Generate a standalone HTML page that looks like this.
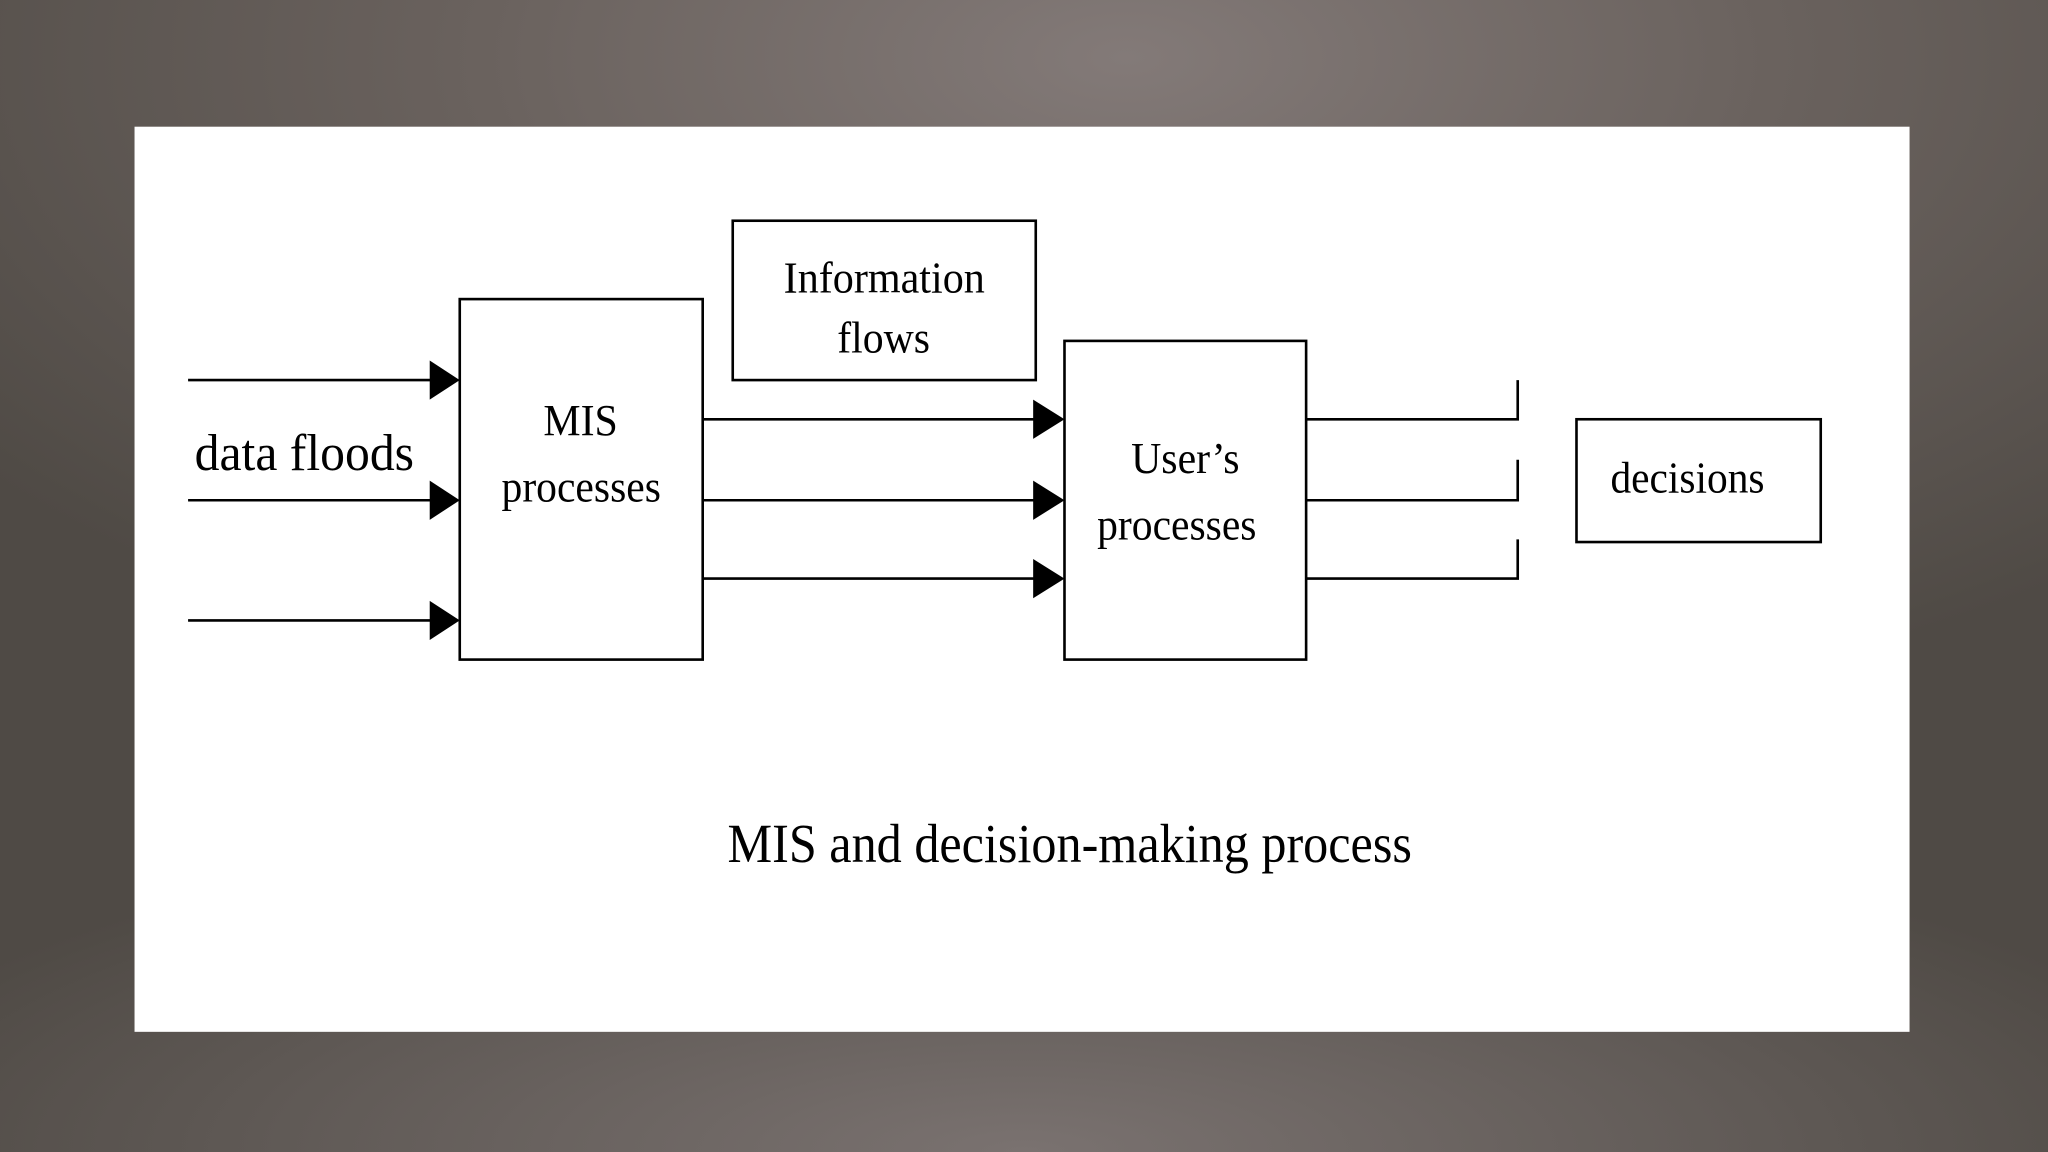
<!DOCTYPE html>
<html><head><meta charset="utf-8"><style>
html,body{margin:0;padding:0;width:2048px;height:1152px;overflow:hidden;}
body{background:radial-gradient(ellipse 60% 30% at 50% 100%, #7a7270 0%, rgba(106,98,94,0) 100%),radial-gradient(ellipse 70% 60% at 55% 5%, #837a78 0%, #6a625e 45%, #4f4a45 100%);}
svg{position:absolute;left:0;top:0;}
text{font-family:"Liberation Serif",serif;fill:#000;}
</style></head><body>
<svg width="2048" height="1152" viewBox="0 0 1568 882" preserveAspectRatio="none">
<rect x="103" y="97" width="1359" height="693" fill="#fff"/>
<g fill="none" stroke="#000" stroke-width="2">
<rect x="352" y="229" width="186" height="276"/>
<rect x="561" y="169" width="232" height="122"/>
<rect x="815" y="261" width="185" height="244"/>
<rect x="1207" y="321" width="187" height="94"/>
<path d="M144 291H330M144 383H330M144 475H330"/>
<path d="M538 321H792M538 383H792M538 443H792"/>
<path d="M1000 321H1162V291M1000 383H1162V352M1000 443H1162V413"/>
</g>
<g fill="#000">
<polygon points="329,276 352,291 329,306"/>
<polygon points="329,368 352,383 329,398"/>
<polygon points="329,460 352,475 329,490"/>
<polygon points="791,306 815,321 791,336"/>
<polygon points="791,368 815,383 791,398"/>
<polygon points="791,428 815,443 791,458"/>
</g>
<text x="149" y="360" font-size="40" textLength="168" lengthAdjust="spacingAndGlyphs">data floods</text>
<text x="416" y="333" font-size="34" textLength="57" lengthAdjust="spacingAndGlyphs">MIS</text>
<text x="384" y="384" font-size="34" textLength="122" lengthAdjust="spacingAndGlyphs">processes</text>
<text x="600" y="224" font-size="34" textLength="154" lengthAdjust="spacingAndGlyphs">Information</text>
<text x="641" y="270" font-size="34" textLength="71" lengthAdjust="spacingAndGlyphs">flows</text>
<text x="866" y="362" font-size="34" textLength="83" lengthAdjust="spacingAndGlyphs">User’s</text>
<text x="840" y="413" font-size="34" textLength="122" lengthAdjust="spacingAndGlyphs">processes</text>
<text x="1233" y="377" font-size="34" textLength="118" lengthAdjust="spacingAndGlyphs">decisions</text>
<text x="557" y="660" font-size="42" textLength="524" lengthAdjust="spacingAndGlyphs">MIS and decision-making process</text>
</svg>
</body></html>
